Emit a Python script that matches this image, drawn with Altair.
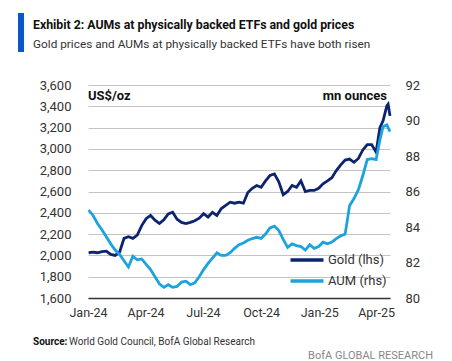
import altair as alt
import pandas as pd

# ---- data ----
weekly_dates = [d.strftime("%Y-%m-%d") for d in pd.date_range("2024-01-02", periods=66, freq="7D")]
extra_dates = ["2025-04-07", "2025-04-12", "2025-04-18", "2025-04-20", "2025-04-23"]
dates = weekly_dates + extra_dates

gold = [
    2025, 2030, 2025, 2035, 2040, 2010, 2000, 2030, 2160, 2175,
    2160, 2190, 2280, 2345, 2375, 2330, 2300, 2335, 2390, 2405,
    2340, 2310, 2298, 2310, 2325, 2350, 2392, 2360, 2405, 2375,
    2440, 2470, 2500, 2490, 2500, 2490, 2590, 2630, 2656, 2640,
    2700, 2750, 2765, 2690, 2570, 2600, 2656, 2640, 2700, 2600,
    2610, 2610, 2630, 2672, 2700, 2730, 2796, 2850, 2895, 2905,
    2874, 2910, 2990, 3040, 3040, 2970,
    3200, 3264, 3404, 3420, 3310,
]

aum = [
    84.95, 84.65, 84.2, 83.85, 83.45, 83.05, 82.7, 82.45, 82.1, 81.75,
    82.35, 82.15, 82.2, 81.9, 81.6, 81.2, 80.8, 80.6, 80.75, 80.6,
    80.65, 80.9, 80.95, 80.75, 80.85, 81.2, 81.6, 81.95, 82.25, 82.55,
    82.4, 82.4, 82.55, 82.8, 83.0, 83.1, 83.25, 83.35, 83.42, 83.36,
    83.6, 83.95, 84.05, 83.8, 83.3, 82.85, 83.05, 82.95, 82.9, 82.7,
    83.0, 82.8, 82.9, 83.15, 83.05, 83.15, 83.35, 83.5, 83.6, 85.2,
    85.6, 86.1, 86.9, 87.8, 87.85, 87.8,
    88.9, 89.65, 89.75, 89.6, 89.37,
]

series_names = ["Gold (lhs)", "AUM (rhs)"]
series_colors = ["#0c2470", "#1aa3dc"]
left_ticks = [1600, 1800, 2000, 2200, 2400, 2600, 2800, 3000, 3200, 3400, 3600]
right_ticks = [80, 82, 84, 86, 88, 90, 92]

gold_df = pd.DataFrame({"date": dates, "value": gold, "series": series_names[0]})
aum_df = pd.DataFrame({"date": dates, "value": aum, "series": series_names[1]})

FONT = "Roboto, sans-serif"
W, H = 302, 213

x_enc = alt.X(
    "date:T",
    scale=alt.Scale(type="utc", domain=[
        alt.DateTime(year=2024, month=1, date=1, utc=True),
        alt.DateTime(year=2025, month=4, date=23, utc=True),
    ]),
    axis=alt.Axis(
        title=None, format="%b-%y",
        values=[
            alt.DateTime(year=2024, month=1, date=1, utc=True),
            alt.DateTime(year=2024, month=4, date=1, utc=True),
            alt.DateTime(year=2024, month=7, date=1, utc=True),
            alt.DateTime(year=2024, month=10, date=1, utc=True),
            alt.DateTime(year=2025, month=1, date=1, utc=True),
            alt.DateTime(year=2025, month=4, date=1, utc=True),
        ],
        labelOverlap=False, labelFlush=False,
        grid=False, ticks=False, domain=True, domainColor="#333333", domainWidth=1.5,
        labelFont=FONT, labelFontSize=12.5, labelColor="#333333", labelPadding=8,
    ),
)

color_enc = alt.Color(
    "series:N",
    scale=alt.Scale(domain=series_names, range=series_colors),
    legend=alt.Legend(
        orient="none", legendX=206, legendY=162, title=None,
        symbolType="M-1.5,0H1.5", symbolSize=484, symbolStrokeWidth=3.5,
        labelFont=FONT, labelFontSize=13, labelColor="#333333",
        rowPadding=1, labelOffset=8,
    ),
)

gold_line = alt.Chart(gold_df).mark_line(strokeWidth=2.8).encode(
    x=x_enc,
    y=alt.Y("value:Q", scale=alt.Scale(domain=[1600, 3600], nice=False, zero=False),
            axis=alt.Axis(title=None, orient="left", values=left_ticks, format=",.0f",
                          grid=True, gridColor="#c4c4c4", gridWidth=1,
                          ticks=False, domain=False, labelFont=FONT, labelFontSize=13,
                          labelColor="#333333", labelPadding=17)),
    color=color_enc,
)

aum_line = alt.Chart(aum_df).mark_line(strokeWidth=2.8).encode(
    x=x_enc,
    y=alt.Y("value:Q", scale=alt.Scale(domain=[80, 92], nice=False, zero=False),
            axis=alt.Axis(title=None, orient="right", values=right_ticks,
                          grid=False, ticks=False, domain=False, labelFont=FONT,
                          labelFontSize=13, labelColor="#333333", labelPadding=15)),
    color=color_enc,
)

lines = alt.layer(gold_line, aum_line).resolve_scale(y="independent")


def txt(t, x, y, size, weight="normal", color="#111111", align="left", baseline="middle"):
    return alt.Chart(pd.DataFrame({"t": [t]})).mark_text(
        font=FONT, fontSize=size, fontWeight=weight, color=color,
        align=align, baseline=baseline,
    ).encode(text="t:N", x=alt.value(x), y=alt.value(y))


bar = alt.Chart(pd.DataFrame({"a": [0]})).mark_rect(color="#0b57c9").encode(
    x=alt.value(-70), x2=alt.value(-64), y=alt.value(-72), y2=alt.value(-33)
)

annotations = [
    bar,
    txt("Exhibit 2: AUMs at physically backed ETFs and gold prices", -55, -60, 12.3, "bold"),
    txt("Gold prices and AUMs at physically backed ETFs have both risen", -55, -41, 11.8, color="#333333"),
    txt("US$/oz", 0, 11, 13, "bold"),
    txt("mn ounces", 299, 11, 13, "bold", align="right"),
    txt("Source:", -55, 257, 10, "bold"),
    txt("World Gold Council, BofA Global Research", -19, 257, 10, color="#333333"),
    txt("BofA GLOBAL RESEARCH", 345, 271, 11, color="#888888", align="right"),
]

chart = alt.layer(lines, *annotations).properties(
    width=W, height=H,
    autosize=alt.AutoSizeParams(type="none"),
    padding={"left": 80, "top": 77, "right": 54, "bottom": 64},
    background="white",
).configure_view(stroke=None)

chart.save("out.html", embed_options={"renderer": "svg", "actions": False})
